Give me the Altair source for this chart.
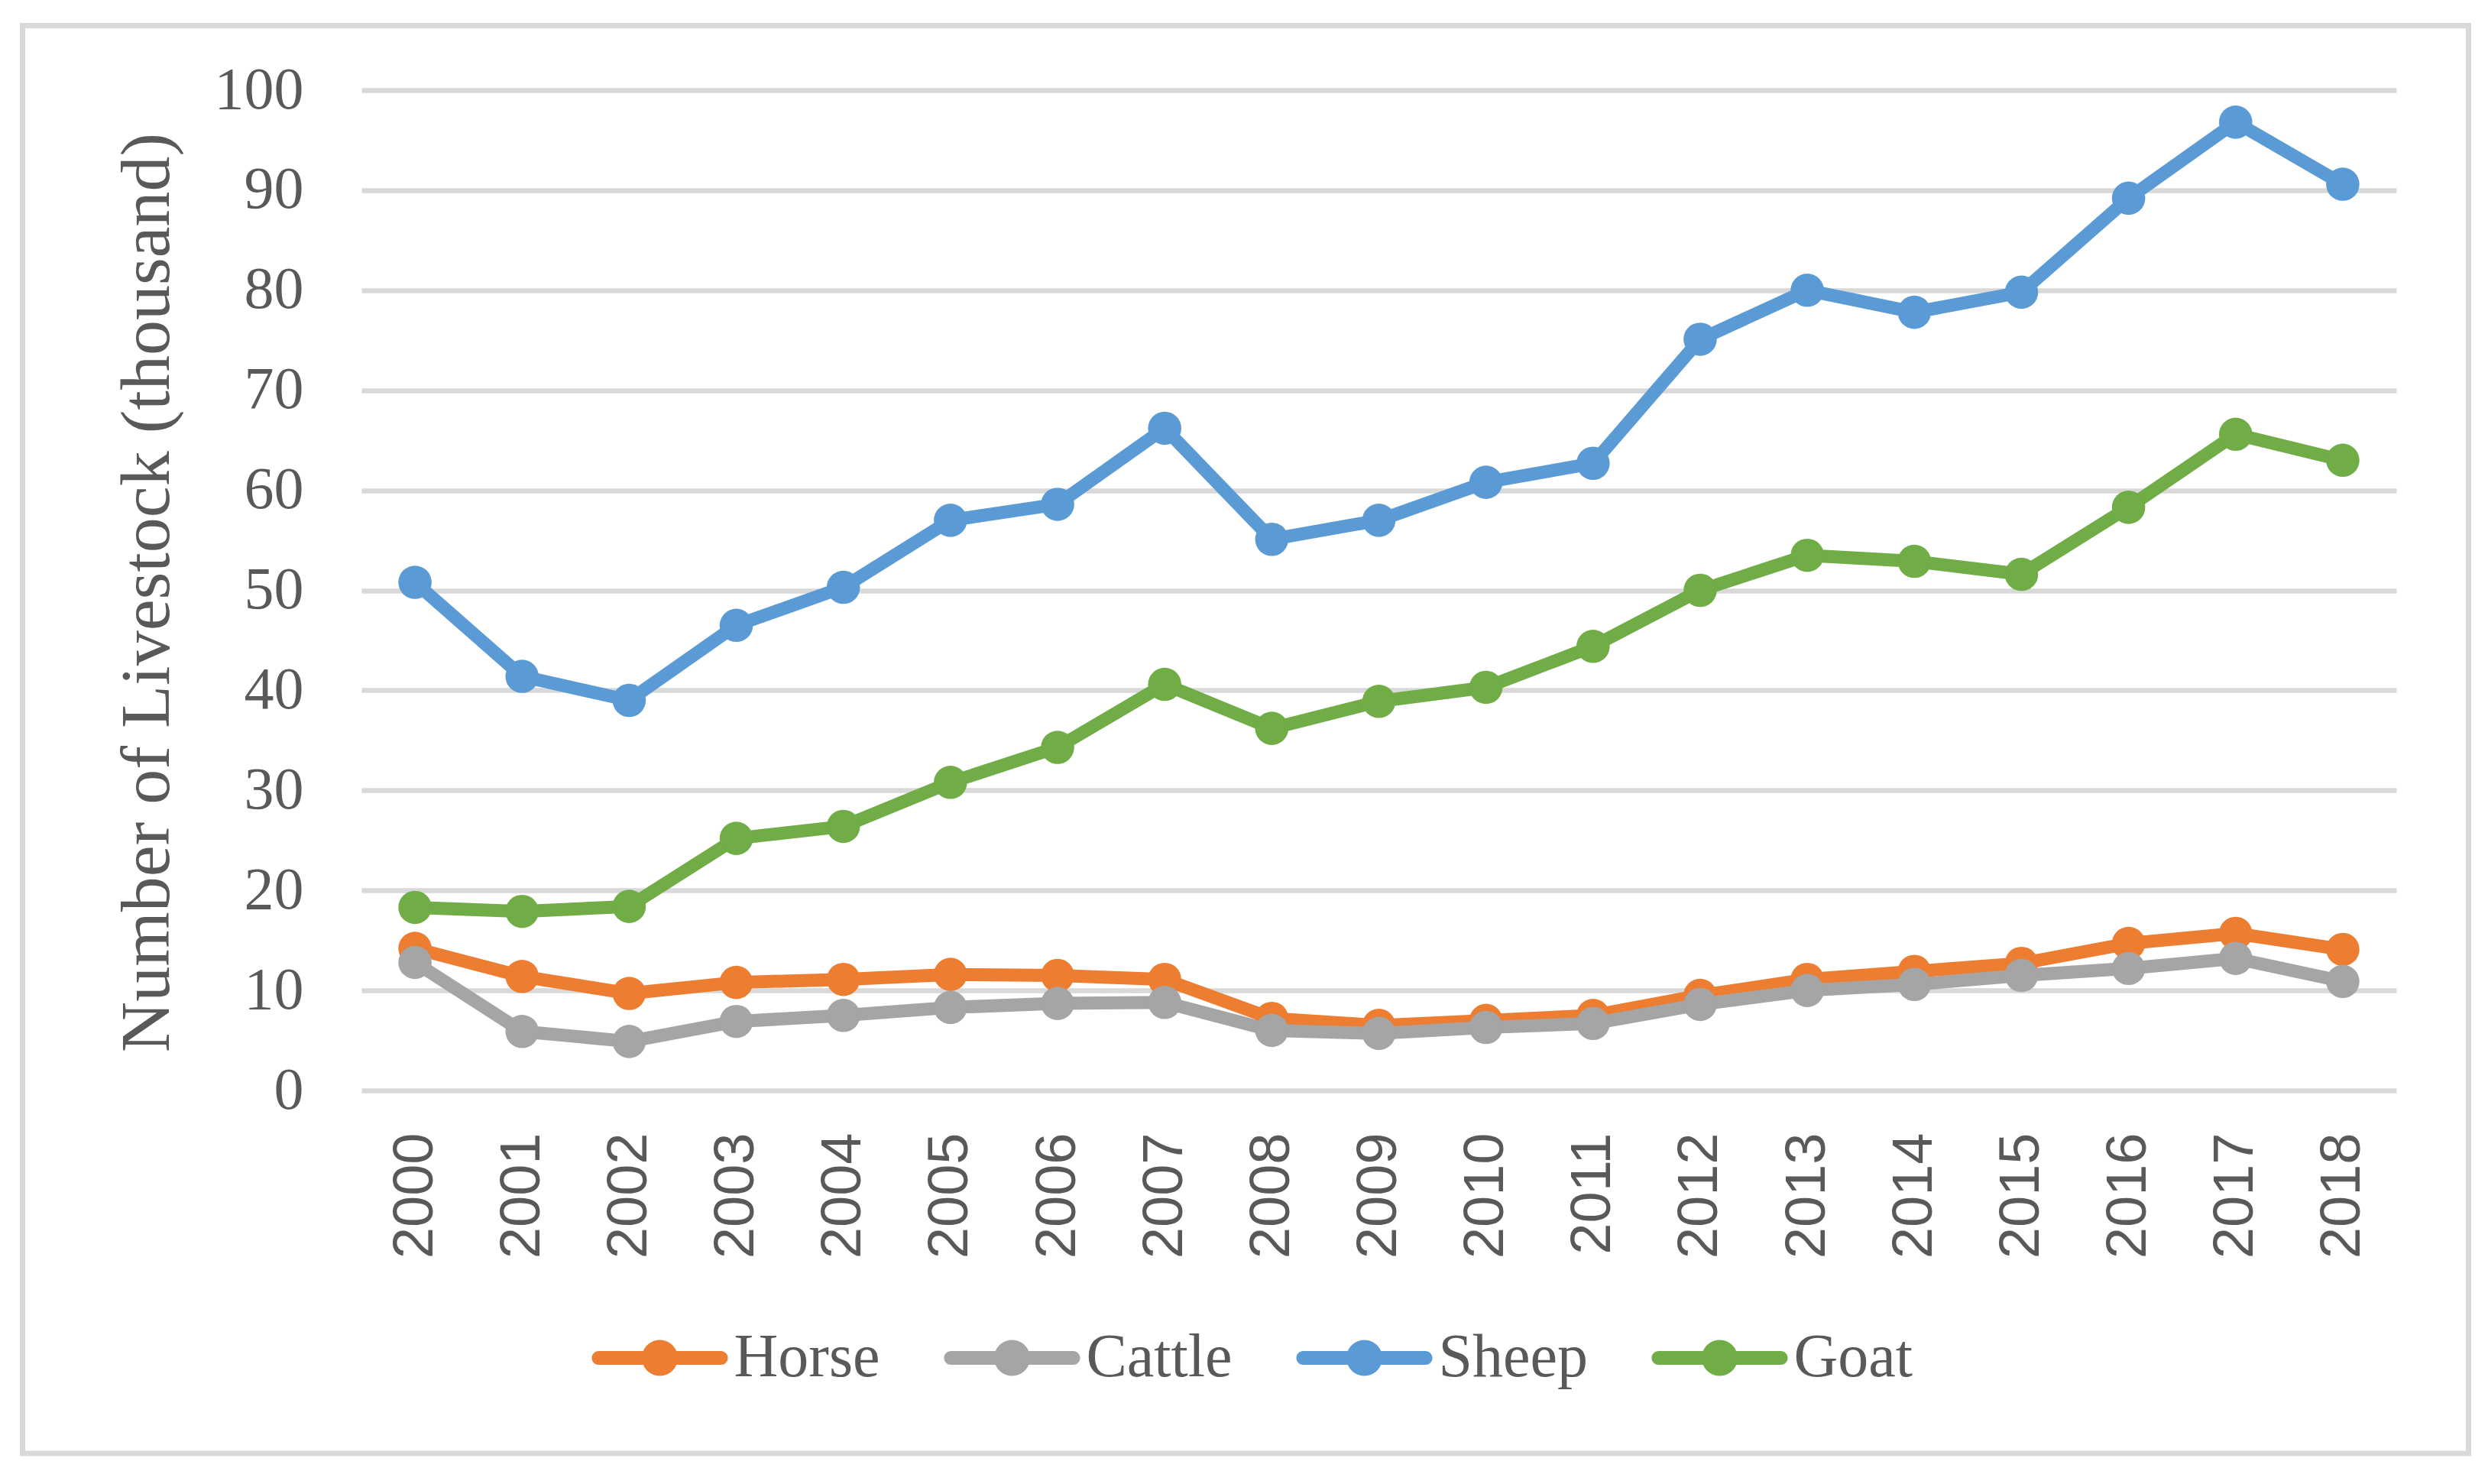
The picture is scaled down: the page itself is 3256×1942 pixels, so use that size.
import altair as alt
import pandas as pd

years = [str(y) for y in range(2000, 2019)]
series = ["Horse", "Cattle", "Sheep", "Goat"]
colors = ["#ED7D31", "#A5A5A5", "#5B9BD5", "#70AD47"]

horse = [14.2, 11.4, 9.7, 10.8, 11.1, 11.6, 11.5, 11.1, 7.2, 6.5, 7.0, 7.5, 9.5, 11.1, 11.9, 12.7, 14.7, 15.7, 14.1]
cattle = [12.8, 5.9, 4.9, 6.9, 7.5, 8.3, 8.7, 8.8, 6.0, 5.7, 6.3, 6.7, 8.6, 10.0, 10.6, 11.5, 12.2, 13.2, 10.9]
sheep = [50.8, 41.4, 39.0, 46.5, 50.3, 57.0, 58.6, 66.2, 55.1, 57.0, 60.8, 62.7, 75.1, 80.0, 77.8, 79.8, 89.2, 96.8, 90.6]
goat = [18.3, 17.9, 18.4, 25.2, 26.4, 30.8, 34.3, 40.6, 36.2, 38.9, 40.3, 44.4, 50.0, 53.5, 52.9, 51.6, 58.3, 65.6, 63.0]

y_ticks = list(range(0, 101, 10))

values = {"Horse": horse, "Cattle": cattle, "Sheep": sheep, "Goat": goat}
rows = []
for s in series:
    for yr, v in zip(years, values[s]):
        rows.append({"Year": yr, "Series": s, "Value": v})
df = pd.DataFrame(rows)

TEXT = "#595959"
SERIF = "Liberation Serif"
SANS = "Liberation Sans"

# legend symbol: line with a circle in the middle (unit coords, scaled by sqrt(size)/2)
LEG_PATH = (
    "M-1.7025,-0.1915 L-0.4619,-0.1915 A0.5,0.5 0 0,1 0.4619,-0.1915 "
    "L1.7025,-0.1915 A0.1915,0.1915 0 0,1 1.7025,0.1915 "
    "L0.4619,0.1915 A0.5,0.5 0 0,1 -0.4619,0.1915 "
    "L-1.7025,0.1915 A0.1915,0.1915 0 0,1 -1.7025,-0.1915 Z"
)

x_enc = alt.X(
    "Year:O",
    sort=years,
    title=None,
    axis=alt.Axis(
        labelAngle=270,
        labelAlign="right",
        labelBaseline="middle",
        labelFont=SANS,
        labelFontSize=74,
        labelColor=TEXT,
        labelPadding=55,
        domain=False,
        ticks=False,
        grid=False,
    ),
)
y_enc = alt.Y(
    "Value:Q",
    scale=alt.Scale(domain=[0, 100], nice=False),
    title="Number of Livestock (thousand)",
    axis=alt.Axis(
        values=y_ticks,
        labelFont=SERIF,
        labelFontSize=78,
        labelColor=TEXT,
        labelPadding=76,
        domain=False,
        ticks=False,
        grid=True,
        gridColor="#D9D9D9",
        gridWidth=6.5,
        titleFont=SERIF,
        titleFontSize=92,
        titleFontWeight="normal",
        titleColor=TEXT,
        titleAngle=270,
        titleAlign="center",
        titleBaseline="alphabetic",
        titleX=-253,
        titleY=657,
    ),
)

color_enc = alt.Color(
    "Series:N",
    scale=alt.Scale(domain=series, range=colors),
    title=None,
    legend=alt.Legend(
        orient="none",
        direction="horizontal",
        legendX=343.5,
        legendY=1612,
        padding=0,
        symbolType=LEG_PATH,
        symbolSize=8836,
        symbolStrokeWidth=0,
        symbolOpacity=1,
        labelFont=SERIF,
        labelFontSize=80,
        labelColor=TEXT,
        labelOffset=50,
        columnPadding=82,
        labelLimit=0,
    ),
)

frame = alt.Chart(alt.Data(values=[{"f": 1}])).mark_rect(
    fill="transparent", stroke="#D9D9D9", strokeWidth=7
).encode(
    x=alt.value(-443.5), x2=alt.value(2757.5), y=alt.value(-84.5), y2=alt.value(1784)
)

layers = [frame]
for s, c in zip(series, colors):
    base = alt.Chart(df).transform_filter(alt.datum.Series == s)
    line = base.mark_line(strokeWidth=17, strokeCap="round", strokeJoin="round", color=c).encode(
        x=x_enc, y=y_enc
    )
    pts = base.mark_point(filled=True, size=1900, opacity=1, shape="circle").encode(
        x=x_enc, y=y_enc, color=color_enc
    )
    layers += [line, pts]

chart = alt.layer(*layers).properties(
    width=2663,
    height=1309,
    autosize=alt.AutoSizeParams(type="none"),
    padding={"left": 465, "top": 110, "right": 100, "bottom": 480},
).configure_view(strokeWidth=0)

chart.save("out.html", embed_options={"renderer": "svg", "actions": False})
